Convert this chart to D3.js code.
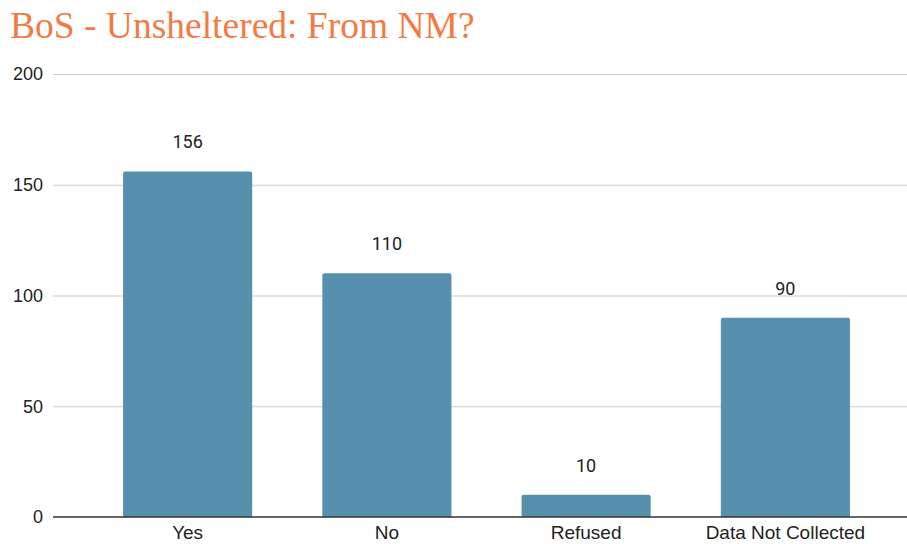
<!DOCTYPE html>
<html>
<head>
<meta charset="utf-8">
<script src="https://cdn.jsdelivr.net/npm/d3@7"></script>
<style>
  html, body { margin: 0; padding: 0; background: #fff; }
  svg { display: block; }
</style>
</head>
<body>
<svg id="chart" width="907" height="544"></svg>
<script>
const categories = ["Yes", "No", "Refused", "Data Not Collected"];
const values = [156, 110, 10, 90];
const yTicks = [0, 50, 100, 150, 200];
const titleText = "BoS - Unsheltered: From NM?";

const W = 907, H = 544;
const svg = d3.select("#chart");

const x = d3.scaleBand().domain(categories).range([88, 885]).paddingInner(0.352).paddingOuter(0.176);
const y = d3.scaleLinear().domain([0, 200]).range([517, 74]);

// title
svg.append("text")
  .attr("x", 10).attr("y", 38)
  .attr("font-family", "'Liberation Serif', 'DejaVu Serif', serif")
  .attr("font-size", 37.5)
  .attr("fill", "#f27b45")
  .text(titleText);

// gridlines
const yAxis = d3.axisLeft(y).tickValues(yTicks).tickSize(0).tickPadding(10).tickFormat(d3.format("d"));
const gy = svg.append("g").attr("transform", "translate(53,0)").call(yAxis);
gy.select(".domain").remove();
gy.selectAll(".tick line").remove();
gy.selectAll(".tick").filter(d => d !== 0).append("line")
  .attr("x1", 0).attr("x2", W - 53)
  .attr("stroke", "#cccccc").attr("stroke-width", 1.2);
gy.selectAll(".tick text")
  .attr("font-family", "'Liberation Sans', Arial, sans-serif")
  .attr("font-size", 18).attr("fill", "#222");

// bars
svg.append("g").selectAll("path").data(categories).join("path")
  .attr("fill", "#5790ad")
  .attr("d", (c, i) => {
    const x0 = x(c), x1 = x(c) + x.bandwidth();
    const yt = y(values[i]), yb = y(0);
    const r = 2;
    return `M${x0},${yb}L${x0},${yt + r}Q${x0},${yt} ${x0 + r},${yt}L${x1 - r},${yt}Q${x1},${yt} ${x1},${yt + r}L${x1},${yb}Z`;
  });

// value labels
svg.append("g").selectAll("text").data(categories).join("text")
  .attr("x", c => x(c) + x.bandwidth() / 2)
  .attr("y", (c, i) => y(values[i]) - 23)
  .attr("text-anchor", "middle")
  .attr("font-family", "Roboto, 'Liberation Sans', sans-serif")
  .attr("font-size", 18).attr("fill", "#222")
  .text((c, i) => values[i]);

// baseline
svg.append("line")
  .attr("x1", 53).attr("x2", W).attr("y1", y(0)).attr("y2", y(0))
  .attr("stroke", "#333").attr("stroke-width", 1.5);

// x axis labels
const xAxis = d3.axisBottom(x).tickSize(0).tickPadding(9);
const gx = svg.append("g").attr("transform", `translate(0,${y(0)})`).call(xAxis);
gx.select(".domain").remove();
gx.selectAll(".tick text")
  .attr("font-family", "'Liberation Sans', Arial, sans-serif")
  .attr("font-size", 19).attr("fill", "#222");
</script>
</body>
</html>
